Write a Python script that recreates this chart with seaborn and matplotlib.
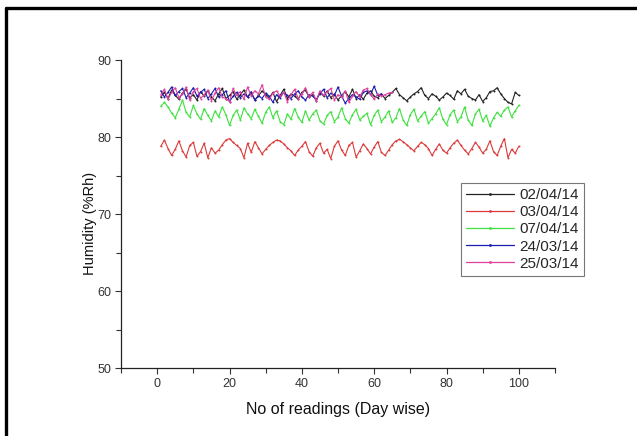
import matplotlib
matplotlib.use("Agg")
import matplotlib.pyplot as plt
import seaborn as sns
import pandas as pd
from matplotlib.lines import Line2D

labels = ["02/04/14", "03/04/14", "07/04/14", "24/03/14", "25/03/14"]
colors = ["#222222", "#dc3a3a", "#3fe03f", "#1c1cb0", "#e0409c"]

s_0204 = [85.2, 85.8, 85.0, 86.1, 85.4, 84.9, 85.7, 86.2, 85.1, 85.5, 84.8, 85.9, 85.3, 86.0, 85.2,
          84.7, 85.6, 86.3, 85.0, 85.4, 85.9, 84.9, 85.5, 86.1, 85.2, 85.7, 84.8, 85.3, 86.0, 85.5,
          85.1, 85.8, 84.6, 85.4, 86.2, 85.0, 85.6, 85.3, 84.9, 85.8, 86.1, 85.2, 85.5, 84.7, 85.9,
          85.3, 86.0, 85.1, 85.6, 84.8, 85.4, 85.9, 85.2, 86.2, 85.0, 85.5, 84.9, 85.7, 86.0, 85.3,
          85.1, 85.6, 85.0, 85.4, 85.8, 86.3, 85.5, 85.1, 84.7, 85.2, 85.6, 85.9, 86.4, 85.4, 85.0,
          85.6, 85.3, 84.8, 85.2, 85.7, 85.4, 84.9, 86.0, 85.6, 86.2, 85.3, 85.0, 84.8, 85.5, 84.6,
          85.1, 85.9, 86.0, 86.4, 85.6, 85.0, 84.5, 84.3, 85.8, 85.4]

s_0304 = [78.8, 79.6, 78.5, 77.6, 78.4, 79.5, 78.2, 77.4, 78.9, 79.3, 77.5, 78.1, 79.2, 77.3, 78.6,
          77.9, 78.3, 79.0, 79.6, 79.8, 79.3, 78.9, 78.5, 77.3, 79.2, 78.0, 79.4, 78.6, 77.8, 78.4,
          78.9, 79.3, 79.6, 79.5, 79.1, 78.6, 78.2, 77.6, 78.3, 78.8, 79.4, 78.1, 77.5, 78.6, 79.2,
          77.9, 78.4, 77.2, 78.8, 79.5, 78.3, 77.6, 78.9, 79.3, 77.4, 78.2, 79.1, 78.5, 77.8, 78.7,
          79.4, 78.0, 77.6, 78.3, 79.0, 79.5, 79.7, 79.4, 79.0, 78.6, 78.2, 78.8, 79.3, 79.0, 78.5,
          77.6, 78.4, 79.1, 78.3, 77.9, 78.6, 79.2, 79.6, 78.9, 78.3, 77.8, 78.5, 79.3, 78.7, 77.9,
          78.4, 79.5, 78.1, 77.6, 78.8, 79.8, 77.3, 78.4, 77.9, 78.8]

s_0704 = [84.0, 84.5, 83.9, 83.1, 82.5, 83.6, 84.8, 83.2, 82.6, 84.1, 83.0, 82.3, 83.7, 82.8, 82.1,
          83.4, 82.6, 83.9, 82.9, 81.5, 82.8, 83.5, 82.2, 83.8, 83.0, 82.4, 83.6, 82.7, 81.8, 83.2,
          83.9, 82.5, 83.4, 82.0, 81.6, 83.0, 82.3, 83.7, 82.6, 81.9, 83.4, 82.2, 83.0, 83.5, 82.1,
          81.7, 82.8, 83.3, 82.0, 82.6, 83.8, 82.4, 81.8, 82.9, 83.6, 82.2, 82.7, 83.1, 81.6, 82.8,
          83.5, 82.0, 82.6, 83.4, 81.9, 82.5, 83.7, 82.2, 81.5, 82.9, 83.6, 82.1, 82.7, 83.3, 81.8,
          82.4, 83.0, 83.8, 82.3, 81.6, 82.9, 83.5, 82.0, 82.6, 83.9, 82.2, 81.5, 83.0, 83.6, 82.1,
          82.8, 81.4, 82.5, 83.2, 82.7, 83.5, 83.9, 82.6, 83.4, 84.1]

s_2403 = [86.0, 85.2, 85.8, 86.5, 85.4, 85.9, 86.3, 85.1, 85.7, 86.4, 85.3, 85.8, 86.2, 85.0, 85.6,
          86.3, 85.2, 85.5, 86.0, 84.6, 85.3, 85.8, 85.1, 85.6, 85.2, 85.9, 84.8, 85.4, 85.0, 85.7,
          85.3, 84.5, 85.5, 85.1, 85.8, 85.4, 85.0, 85.6, 86.0, 85.2, 84.8, 85.5, 85.3, 84.9, 85.6,
          86.2, 85.1, 85.7, 85.4, 86.5, 85.3, 84.4, 85.0, 85.5, 85.2, 84.9, 85.8, 86.0, 85.5, 86.6,
          85.4, 85.6]

s_2503 = [85.5, 86.2, 84.9, 85.8, 86.4, 85.1, 85.6, 86.5, 84.8, 85.9, 86.3, 85.0, 85.5, 86.1, 84.7,
          85.7, 86.4, 85.2, 85.0, 84.6, 86.3, 85.4, 85.9, 84.9, 86.5, 85.3, 86.0, 85.6, 86.8, 85.2,
          84.9, 85.7, 86.0, 85.3, 85.8, 84.6, 85.5, 86.2, 85.0, 85.6, 86.4, 85.2, 85.8, 84.7, 86.0,
          85.4, 85.9, 86.3, 84.8, 85.5, 85.2, 86.0, 84.5, 85.3, 85.9, 85.2, 86.1, 86.3, 85.5, 84.9,
          85.6, 85.3, 85.5, 85.7, 85.8]

series = [s_0204, s_0304, s_0704, s_2403, s_2503]

frames = []
for lab, vals in zip(labels, series):
    frames.append(pd.DataFrame({"reading": range(1, len(vals) + 1), "humidity": vals, "date": lab}))
df = pd.concat(frames, ignore_index=True)

sns.set_style("ticks")
plt.rcParams["font.family"] = ["Liberation Sans", "DejaVu Sans"]

fig = plt.figure(figsize=(6.37, 4.36), dpi=100)
ax = fig.add_axes([121 / 637, 1 - 368 / 436, (555 - 121) / 637, (368 - 60) / 436])

sns.lineplot(data=df, x="reading", y="humidity", hue="date", hue_order=labels,
             palette=dict(zip(labels, colors)), marker="o", markersize=1.4,
             markeredgewidth=0, linewidth=0.8, ax=ax, legend=False)

ax.set_xlim(-10, 110)
ax.set_ylim(50, 90)
ax.set_xticks([0, 20, 40, 60, 80, 100])
ax.set_xticks([-10, 10, 30, 50, 70, 90, 110], minor=True)
ax.set_yticks([50, 60, 70, 80, 90])
ax.set_yticks([55, 65, 75, 85], minor=True)
ax.tick_params(axis="both", which="major", direction="out", length=4.5, width=0.8,
               labelsize=9, colors="#333333", labelcolor="#333333", pad=2.5)
ax.tick_params(axis="both", which="minor", direction="out", length=3.5, width=0.8, colors="#333333")
for sp in ["top", "right"]:
    ax.spines[sp].set_visible(False)
for sp in ["left", "bottom"]:
    ax.spines[sp].set_linewidth(0.9)
    ax.spines[sp].set_color("#222222")

ax.set_xlabel("No of readings (Day wise)", fontsize=11.5, color="#111111")
ax.xaxis.set_label_coords(0.5, -0.11)
ax.set_ylabel("Humidity (%Rh)", fontsize=10.5, color="#111111")
ax.yaxis.set_label_coords(-0.055, 0.47)

handles = [Line2D([0], [0], color=c, lw=0.9, marker="o", markersize=2.0, markeredgewidth=0)
           for c in colors]
leg = fig.legend(handles, labels, loc="upper left", numpoints=1,
                 bbox_to_anchor=(461 / 637, 1 - 183 / 436), bbox_transform=fig.transFigure,
                 fontsize=11, frameon=True, fancybox=False, edgecolor="#555555",
                 handlelength=3.1, handletextpad=0.35, labelspacing=0.2, borderpad=0.35,
                 borderaxespad=0)
leg.get_frame().set_linewidth(0.8)

# figure frame (left and top edges)
fig.add_artist(Line2D([5.5 / 637, 5.5 / 637], [0, 1 - 8.5 / 436], transform=fig.transFigure,
                      color="black", lw=2.4))
fig.add_artist(Line2D([5.5 / 637, 1], [1 - 8.5 / 436, 1 - 8.5 / 436], transform=fig.transFigure,
                      color="black", lw=2.4))

fig.savefig("out.png", dpi=100)
